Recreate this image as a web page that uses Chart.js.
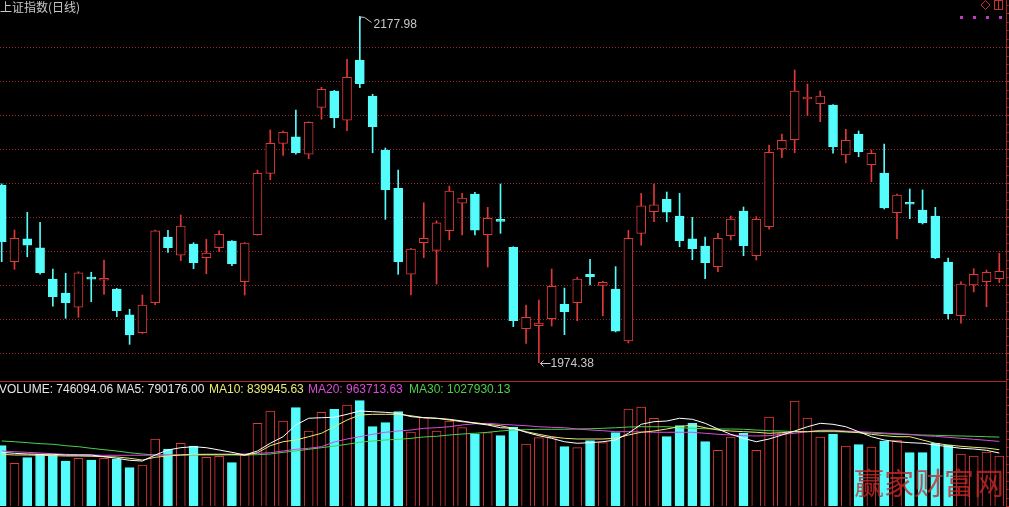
<!DOCTYPE html>
<html>
<head>
<meta charset="utf-8">
<script src="https://cdn.jsdelivr.net/npm/chart.js@4.4.0/dist/chart.umd.min.js"></script>
<style>
  html, body { margin: 0; padding: 0; background: #000; overflow: hidden; }
  #wrap { position: relative; width: 1009px; height: 507px; background: #000; }
  canvas { position: absolute; left: 0; }
  #priceChart { top: 0; }
  #volumeChart { top: 381px; }
</style>
</head>
<body>
<div id="wrap">
  <canvas id="priceChart" width="1009" height="381"></canvas>
  <canvas id="volumeChart" width="1009" height="126"></canvas>
</div>
<script>
const title = "上证指数(日线)";

// daily candles
const open = [2078.8, 2033.7, 2047.1, 2041.8, 2023.5, 2015.3, 2006.9, 2023.9, 2022.8, 2017.6,
  2002.4, 1991.9, 2009.6, 2048.2, 2037.5, 2044.1, 2036.1, 2041.9, 2045.9, 2021.9,
  2049.6, 2085.7, 2103.3, 2107.1, 2096.9, 2124.5, 2134.1, 2116.9, 2152.3, 2131.2,
  2099.4, 2076.9, 2026.3, 2044.9, 2040.4, 2051.9, 2068.1, 2073.5, 2049.6, 2058.0,
  2042.2, 1994.3, 1996.1, 2000.2, 2008.6, 2009.6, 2026.3, 2019.8, 2017.6, 1987.1,
  2050.4, 2063.1, 2070.4, 2060.6, 2047.1, 2042.9, 2030.8, 2049.0, 2063.5, 2037.2,
  2054.3, 2100.0, 2105.5, 2129.4, 2126.6, 2125.9, 2096.5, 2108.8, 2090.8, 2085.9,
  2062.5, 2068.2, 2064.1, 2060.6, 2033.5, 2001.9, 2020.0, 2021.9, 2023.7];
const high = [2079.5, 2052.3, 2062.8, 2056.9, 2029.4, 2026.9, 2027.8, 2027.5, 2034.7, 2018.0,
  2005.7, 2014.1, 2052.3, 2052.2, 2061.2, 2044.9, 2046.9, 2051.8, 2046.2, 2045.0,
  2087.6, 2111.2, 2110.6, 2122.9, 2116.0, 2136.3, 2134.5, 2152.8, 2177.98, 2132.2,
  2100.6, 2087.6, 2041.6, 2068.4, 2057.8, 2078.2, 2073.9, 2074.5, 2065.7, 2079.4,
  2042.5, 2008.2, 2011.2, 2029.4, 2018.2, 2024.5, 2035.1, 2022.2, 2030.8, 2052.1,
  2073.9, 2079.4, 2074.7, 2073.9, 2059.8, 2048.2, 2050.4, 2060.6, 2065.9, 2060.2,
  2102.3, 2108.8, 2146.5, 2138.2, 2134.1, 2126.2, 2111.6, 2110.6, 2099.4, 2102.9,
  2073.5, 2076.5, 2075.9, 2065.7, 2035.9, 2021.8, 2029.6, 2028.8, 2038.6];
const low = [2033.7, 2029.2, 2036.6, 2026.3, 2007.6, 2000.4, 2001.0, 2010.2, 2014.5, 2001.4,
  1985.1, 1991.5, 2008.4, 2039.2, 2034.3, 2029.6, 2026.6, 2039.6, 2031.4, 2014.1,
  2049.3, 2081.9, 2096.2, 2096.9, 2094.3, 2117.5, 2112.5, 2110.8, 2136.1, 2097.8,
  2058.6, 2026.3, 2014.1, 2036.1, 2020.6, 2046.5, 2049.4, 2049.4, 2030.6, 2050.4,
  1995.5, 1985.7, 1974.38, 1995.9, 1990.8, 1999.0, 2020.0, 2001.9, 1992.4, 1985.9,
  2043.4, 2057.2, 2057.2, 2042.5, 2034.9, 2023.7, 2027.8, 2046.5, 2037.2, 2034.7,
  2052.8, 2094.9, 2097.8, 2119.6, 2116.1, 2097.6, 2091.9, 2095.5, 2080.8, 2064.7,
  2047.2, 2059.0, 2055.9, 2035.5, 2000.0, 1997.5, 2015.9, 2007.2, 2021.4];
const close = [2045.5, 2047.5, 2043.5, 2027.2, 2013.1, 2009.6, 2027.1, 2023.5, 2023.4, 2004.9,
  1990.6, 2008.2, 2051.8, 2041.9, 2054.7, 2033.1, 2038.8, 2049.8, 2032.4, 2044.7,
  2085.7, 2103.3, 2109.8, 2097.8, 2115.7, 2135.1, 2118.4, 2142.2, 2138.4, 2113.1,
  2076.1, 2033.7, 2041.2, 2047.5, 2056.6, 2075.3, 2071.2, 2052.3, 2059.2, 2057.4,
  1999.0, 2001.0, 1997.6, 2019.2, 2004.3, 2023.5, 2024.9, 2021.6, 1992.9, 2047.5,
  2066.5, 2067.1, 2062.9, 2046.1, 2041.3, 2033.1, 2047.5, 2058.8, 2043.1, 2058.6,
  2098.1, 2105.1, 2134.1, 2130.4, 2131.2, 2101.2, 2105.1, 2098.4, 2097.5, 2065.3,
  2072.9, 2067.5, 2056.5, 2035.9, 2003.1, 2020.6, 2026.3, 2027.5, 2028.1];

const volume = [899800, 637200, 720700, 771500, 761000, 671500, 711800, 686400, 711800, 701300,
  571500, 611800, 999800, 850600, 935600, 895300, 726700, 741600, 646100, 756500,
  1234000, 1417600, 1268400, 1466800, 1119200, 1398200, 1443000, 1507100, 1571300, 1183300,
  1243000, 1407100, 1104200, 1317600, 1119200, 1268400, 1168400, 1074400, 1093800, 1049000,
  1178800, 925200, 1019200, 1025100, 884900, 870000, 974400, 944600, 1093800, 1447400,
  1477300, 1308700, 1034100, 1198200, 1234000, 959500, 831200, 1029600, 1084800, 831200,
  1328100, 1078900, 1566800, 1313100, 1029600, 1074400, 895300, 914700, 880400, 969900,
  984900, 795300, 795300, 940100, 910200, 775900, 746100, 805800, 746094.06];
const ma5 = [801000, 786000, 776000, 771000, 771000, 761000, 761000, 761000, 736000, 712000,
  682000, 671000, 761000, 836000, 870000, 885000, 870000, 836000, 801000, 761000,
  821000, 936000, 1034000, 1209000, 1309000, 1318000, 1324000, 1368000, 1418000, 1407000,
  1398000, 1383000, 1333000, 1318000, 1309000, 1294000, 1268000, 1234000, 1209000, 1168000,
  1159000, 1100000, 1049000, 1010000, 959000, 936000, 945000, 959000, 985000, 1085000,
  1219000, 1258000, 1268000, 1309000, 1294000, 1234000, 1149000, 1070000, 1010000, 959000,
  1000000, 1059000, 1119000, 1183000, 1234000, 1219000, 1183000, 1109000, 1034000, 985000,
  959000, 945000, 936000, 910000, 885000, 861000, 851000, 831000, 790176.00];
const ma10 = [771000, 761000, 761000, 757000, 751000, 746000, 746000, 742000, 736000, 731000,
  712000, 686000, 727000, 746000, 761000, 771000, 771000, 771000, 771000, 761000,
  795000, 900000, 959000, 985000, 1034000, 1085000, 1183000, 1283000, 1358000, 1368000,
  1368000, 1368000, 1347000, 1318000, 1309000, 1283000, 1258000, 1243000, 1219000, 1198000,
  1159000, 1109000, 1070000, 1034000, 1010000, 1000000, 1000000, 1000000, 1010000, 1059000,
  1100000, 1119000, 1149000, 1183000, 1209000, 1168000, 1134000, 1119000, 1109000, 1100000,
  1085000, 1094000, 1109000, 1109000, 1119000, 1119000, 1109000, 1094000, 1070000, 1049000,
  1034000, 1034000, 985000, 936000, 910000, 891000, 876000, 865000, 839945.63];
const ma20 = [821000, 810000, 801000, 791000, 780000, 771000, 766000, 761000, 757000, 757000,
  757000, 757000, 761000, 761000, 766000, 766000, 771000, 771000, 771000, 776000,
  786000, 795000, 821000, 846000, 861000, 885000, 955000, 1000000, 1034000, 1070000,
  1100000, 1119000, 1134000, 1159000, 1168000, 1183000, 1209000, 1228000, 1234000, 1219000,
  1209000, 1198000, 1183000, 1174000, 1168000, 1149000, 1134000, 1124000, 1109000, 1109000,
  1104000, 1100000, 1100000, 1100000, 1100000, 1085000, 1070000, 1059000, 1049000, 1045000,
  1049000, 1070000, 1085000, 1109000, 1130000, 1130000, 1119000, 1109000, 1100000, 1089000,
  1079000, 1070000, 1049000, 1040000, 1025000, 1010000, 995000, 980000, 963713.63];
const ma30 = [970000, 959000, 945000, 930000, 921000, 900000, 885000, 861000, 840000, 821000,
  795000, 776000, 761000, 761000, 761000, 761000, 761000, 761000, 761000, 761000,
  766000, 776000, 801000, 821000, 846000, 870000, 895000, 921000, 951000, 970000,
  985000, 995000, 1010000, 1030000, 1040000, 1059000, 1074000, 1085000, 1100000, 1119000,
  1134000, 1139000, 1145000, 1145000, 1145000, 1149000, 1153000, 1159000, 1168000, 1179000,
  1183000, 1183000, 1183000, 1168000, 1159000, 1153000, 1149000, 1149000, 1145000, 1134000,
  1124000, 1119000, 1109000, 1109000, 1109000, 1109000, 1104000, 1100000, 1089000, 1079000,
  1070000, 1064000, 1059000, 1055000, 1049000, 1045000, 1040000, 1034000, 1027930.13];

const labels = open.map((_, i) => String(i + 1));

const UP = "#e03838";
const DOWN = "#54fcfc";
const FRAME = "#b02424";
const GRID = "#9a2626";
const TEXT = "#c8c8c8";
const RIGHT_EDGE = 1006.5;

const isUp = (i) => close[i] >= open[i];
const candleColor = (i) => (isUp(i) ? UP : DOWN);

// dotted horizontal lines at the round tick values, across the whole panel
function drawDottedGrid(chart, step) {
  const y = chart.scales.y;
  const ctx = chart.ctx;
  ctx.save();
  ctx.strokeStyle = GRID;
  ctx.lineWidth = 1;
  ctx.setLineDash([1, 2]);
  y.ticks.forEach((t) => {
    const k = t.value / step;
    if (Math.abs(k - Math.round(k)) > 1e-6 || t.value <= y.min || t.value >= y.max) return;
    const py = Math.round(y.getPixelForValue(t.value)) + 0.5;
    ctx.beginPath();
    ctx.moveTo(0, py);
    ctx.lineTo(RIGHT_EDGE, py);
    ctx.stroke();
  });
  ctx.restore();
}

// right hand frame line with its little tick marks
function drawRightFrame(chart, step) {
  const ctx = chart.ctx;
  const y = chart.scales.y;
  ctx.save();
  ctx.strokeStyle = FRAME;
  ctx.lineWidth = 1;
  ctx.beginPath();
  ctx.moveTo(RIGHT_EDGE, 0);
  ctx.lineTo(RIGHT_EDGE, chart.height);
  ctx.stroke();
  const sub = step / 4;
  for (let v = Math.ceil(y.min / sub) * sub; v < y.max; v += sub) {
    const py = Math.round(y.getPixelForValue(v)) + 0.5;
    const major = Math.abs(v / step - Math.round(v / step)) < 1e-6;
    ctx.beginPath();
    ctx.moveTo(RIGHT_EDGE, py);
    ctx.lineTo(RIGHT_EDGE + (major ? 3 : 2), py);
    ctx.stroke();
  }
  ctx.restore();
}

const priceDecor = {
  id: "priceDecor",
  beforeDatasetsDraw(chart) {
    drawDottedGrid(chart, 20);
  },
  afterDatasetsDraw(chart) {
    const ctx = chart.ctx;
    const xs = chart.scales.x;
    const ys = chart.scales.y;
    drawRightFrame(chart, 20);

    ctx.save();
    ctx.fillStyle = TEXT;
    ctx.font = "12px 'Noto Sans CJK SC'";
    ctx.textBaseline = "middle";
    ctx.fillText(title, 0, 7);

    // highest high
    const iH = high.indexOf(Math.max(...high));
    const hx = Math.round(xs.getPixelForValue(iH)) + 0.5;
    const hy = ys.getPixelForValue(high[iH]);
    ctx.strokeStyle = TEXT;
    ctx.lineWidth = 1;
    ctx.beginPath();
    ctx.moveTo(hx, hy + 3);
    ctx.lineTo(hx, hy + 0.5);
    ctx.lineTo(hx + 4, hy + 1);
    ctx.lineTo(hx + 11, hy + 6);
    ctx.stroke();
    ctx.font = "12px 'Liberation Sans'";
    ctx.fillText(high[iH].toFixed(2), hx + 13, hy + 8);

    // lowest low
    const iL = low.indexOf(Math.min(...low));
    const lx = Math.round(xs.getPixelForValue(iL)) + 0.5;
    const ly = Math.round(ys.getPixelForValue(low[iL])) + 0.5;
    ctx.beginPath();
    ctx.moveTo(lx + 11, ly);
    ctx.lineTo(lx + 1, ly);
    ctx.moveTo(lx + 4, ly - 3);
    ctx.lineTo(lx + 1, ly);
    ctx.lineTo(lx + 4, ly + 3);
    ctx.stroke();
    ctx.fillText(low[iL].toFixed(2), lx + 11, ly);

    // small toolbar marks in the top right corner
    ctx.strokeStyle = "#c83232";
    ctx.beginPath();
    ctx.moveTo(985.5, 0.5);
    ctx.lineTo(990, 5);
    ctx.lineTo(985.5, 9.5);
    ctx.lineTo(981, 5);
    ctx.closePath();
    ctx.stroke();
    ctx.strokeRect(994.5, 0.5, 8, 9);
    ctx.beginPath();
    ctx.moveTo(998.5, 0.5);
    ctx.lineTo(998.5, 9.5);
    ctx.stroke();
    ctx.fillStyle = "#c03cc0";
    [961, 974, 987, 1000].forEach((mx) => ctx.fillRect(mx - 1, 16, 3, 3));
    ctx.restore();
  },
};

new Chart(document.getElementById("priceChart"), {
  type: "bar",
  data: {
    labels: labels,
    datasets: [
      {
        label: "shadow",
        data: low.map((l, i) => [l, high[i]]),
        backgroundColor: labels.map((_, i) => candleColor(i)),
        borderWidth: 0,
        barThickness: 1,
        grouped: false,
        order: 2,
        clip: false,
      },
      {
        label: "body",
        data: open.map((o, i) => [o, close[i]]),
        backgroundColor: labels.map((_, i) => (isUp(i) ? "#000000" : DOWN)),
        borderColor: labels.map((_, i) => candleColor(i)),
        borderWidth: 1,
        borderSkipped: false,
        minBarLength: 2,
        barThickness: 9,
        grouped: false,
        order: 1,
        clip: false,
      },
    ],
  },
  options: {
    responsive: false,
    animation: false,
    layout: { padding: { left: 1.7, right: 9.7, top: 0, bottom: 0 } },
    scales: {
      x: { display: false, offset: false },
      y: { display: false, min: 1963.53, max: 2187.65, ticks: { stepSize: 20 } },
    },
    plugins: {
      legend: { display: false },
      tooltip: { enabled: false },
    },
  },
  plugins: [priceDecor],
});

const volumeDecor = {
  id: "volumeDecor",
  beforeDatasetsDraw(chart) {
    drawDottedGrid(chart, 500000);
  },
  afterDatasetsDraw(chart) {
    const ctx = chart.ctx;
    drawRightFrame(chart, 500000);
    ctx.save();
    ctx.strokeStyle = FRAME;
    ctx.lineWidth = 1;
    ctx.beginPath();
    ctx.moveTo(0, 0.5);
    ctx.lineTo(RIGHT_EDGE, 0.5);
    ctx.stroke();

    const last = volume.length - 1;
    const parts = [
      { text: "VOLUME: " + volume[last].toFixed(2) + " MA5: " + ma5[last].toFixed(2), color: "#e6e6e6", x: -1 },
      { text: "MA10: " + ma10[last].toFixed(2), color: "#eaea78", x: 209 },
      { text: "MA20: " + ma20[last].toFixed(2), color: "#d84cd8", x: 308 },
      { text: "MA30: " + ma30[last].toFixed(2), color: "#4cd04c", x: 409 },
    ];
    ctx.font = "12px 'Liberation Sans'";
    ctx.textBaseline = "middle";
    parts.forEach((p) => {
      ctx.fillStyle = p.color;
      ctx.fillText(p.text, p.x, 9);
    });

    // site watermark
    ctx.font = "30px 'Noto Sans CJK SC'";
    ctx.fillStyle = "rgba(200, 40, 40, 0.8)";
    ctx.fillText("赢家财富网", 854, 102);
    ctx.restore();
  },
};

new Chart(document.getElementById("volumeChart"), {
  type: "bar",
  data: {
    labels: labels,
    datasets: [
      {
        label: "VOLUME",
        data: volume,
        backgroundColor: labels.map((_, i) => (isUp(i) ? "#000000" : DOWN)),
        borderColor: labels.map((_, i) => candleColor(i)),
        borderWidth: 1,
        barThickness: 9,
        order: 5,
        clip: false,
      },
      { type: "line", label: "MA5", data: ma5, borderColor: "#ffffff", borderWidth: 1, pointRadius: 0, order: 1, clip: false },
      { type: "line", label: "MA10", data: ma10, borderColor: "#eaea78", borderWidth: 1, pointRadius: 0, order: 2, clip: false },
      { type: "line", label: "MA20", data: ma20, borderColor: "#d84cd8", borderWidth: 1, pointRadius: 0, order: 3, clip: false },
      { type: "line", label: "MA30", data: ma30, borderColor: "#4cd04c", borderWidth: 1, pointRadius: 0, order: 4, clip: false },
    ],
  },
  options: {
    responsive: false,
    animation: false,
    layout: { padding: { left: 1.7, right: 9.7, top: 0, bottom: 1 } },
    scales: {
      x: { display: false, offset: false },
      y: { display: false, min: 0, max: 1865250, ticks: { stepSize: 500000 } },
    },
    plugins: {
      legend: { display: false },
      tooltip: { enabled: false },
    },
  },
  plugins: [volumeDecor],
});
</script>
</body>
</html>
